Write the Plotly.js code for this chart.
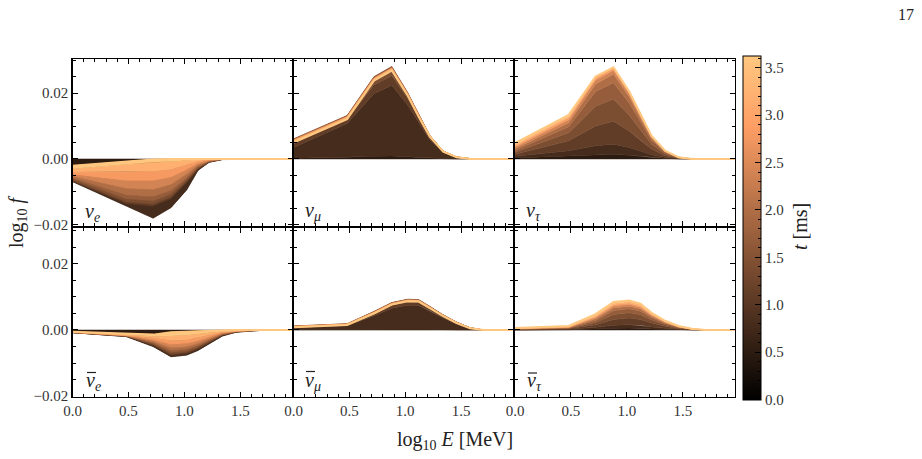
<!DOCTYPE html>
<html>
<head>
<meta charset="utf-8">
<script src="https://cdn.plot.ly/plotly-3.0.1.min.js"></script>
<style>html,body{margin:0;padding:0;background:#fff}#plot{width:922px;height:459px}</style>
</head>
<body>
<div id="plot"></div>
<script>
// energy grid, log10 E [MeV]
const logE = [0, 0.48, 0.72, 0.88, 1.02, 1.12, 1.22, 1.34, 1.46, 1.58, 1.7, 1.82, 1.97];
// snapshot times [ms]
const times = [0, 0.5, 0.8, 1.1, 1.4, 1.7, 2.0, 2.4, 2.8, 3.2, 3.63];
const tMax = 3.63;

// log10 f per snapshot (rows follow `times`)
const nuE = [
  [0,0,0,0,0,0,0,0,0,0,0,0,0],
  [-0.0069,-0.0143,-0.0180,-0.0148,-0.0094,-0.0035,-0.0010,-0.0001,0,0,0,0,0],
  [-0.0068,-0.0136,-0.0144,-0.0121,-0.0072,-0.0032,-0.0010,-0.0002,0,0,0,0,0],
  [-0.0066,-0.0131,-0.0138,-0.0116,-0.0069,-0.0030,-0.0009,-0.0001,0,0,0,0,0],
  [-0.0062,-0.0122,-0.0128,-0.0107,-0.0063,-0.0027,-0.0008,-0.0001,0,0,0,0,0],
  [-0.0058,-0.0110,-0.0115,-0.0096,-0.0057,-0.0024,-0.0007,-0.0001,0,0,0,0,0],
  [-0.0053,-0.0090,-0.0093,-0.0078,-0.0046,-0.0019,-0.0006,-0.0001,0,0,0,0,0],
  [-0.0047,-0.0066,-0.0066,-0.0056,-0.0033,-0.0014,-0.0004,0,0,0,0,0,0],
  [-0.0040,-0.0040,-0.0038,-0.0032,-0.0019,-0.0008,-0.0002,0,0,0,0,0,0],
  [-0.0030,-0.0016,-0.0010,-0.0008,-0.0005,-0.0002,-0.0001,0,0,0,0,0,0],
  [-0.0021,-0.0008,-0.0002,0,0,0,0,0,0,0,0,0,0]
];
const nuMu = [
  [0,0,0,0,0,0,0,0,0,0,0,0,0],
  [0.0002,0.0005,0.0008,0.0009,0.0007,0.0005,0.0003,0.0001,0,0,0,0,0],
  [0.0035,0.0108,0.0198,0.0224,0.0165,0.0110,0.0058,0.0020,0.0005,0,0,0,0],
  [0.0048,0.0120,0.0225,0.0253,0.0185,0.0123,0.0065,0.0022,0.0005,0,0,0,0],
  [0.0061,0.0132,0.0250,0.0281,0.0203,0.0135,0.0072,0.0024,0.0006,0.0001,0,0,0],
  [0.0059,0.0130,0.0247,0.0278,0.0201,0.0134,0.0071,0.0024,0.0006,0.0001,0,0,0],
  [0.0058,0.0129,0.0246,0.0277,0.0200,0.0133,0.0071,0.0023,0.0006,0.0001,0,0,0],
  [0.0057,0.0128,0.0245,0.0276,0.0199,0.0132,0.0070,0.0023,0.0006,0.0001,0,0,0],
  [0.0056,0.0127,0.0244,0.0275,0.0198,0.0131,0.0070,0.0023,0.0006,0.0001,0,0,0],
  [0.0053,0.0124,0.0241,0.0272,0.0196,0.0130,0.0069,0.0022,0.0005,0.0001,0,0,0],
  [0.0050,0.0121,0.0238,0.0269,0.0194,0.0128,0.0068,0.0022,0.0005,0,0,0,0]
];
const nuTau = [
  [0,0,0,0,0,0,0,0,0,0,0,0,0],
  [0.0003,0.0008,0.0012,0.0014,0.0011,0.0008,0.0004,0.0002,0,0,0,0,0],
  [0.0008,0.0025,0.0040,0.0045,0.0035,0.0024,0.0013,0.0005,0.0001,0,0,0,0],
  [0.0014,0.0055,0.0100,0.0115,0.0085,0.0057,0.0030,0.0010,0.0002,0,0,0,0],
  [0.0020,0.0080,0.0160,0.0182,0.0133,0.0088,0.0045,0.0016,0.0003,0,0,0,0],
  [0.0026,0.0098,0.0205,0.0232,0.0170,0.0112,0.0057,0.0020,0.0004,0,0,0,0],
  [0.0031,0.0110,0.0228,0.0258,0.0189,0.0124,0.0064,0.0022,0.0004,0,0,0,0],
  [0.0036,0.0119,0.0240,0.0270,0.0198,0.0130,0.0067,0.0024,0.0005,0,0,0,0],
  [0.0040,0.0125,0.0246,0.0275,0.0202,0.0133,0.0069,0.0024,0.0005,0,0,0,0],
  [0.0044,0.0130,0.0249,0.0278,0.0204,0.0134,0.0069,0.0025,0.0005,0,0,0,0],
  [0.0048,0.0134,0.0251,0.0279,0.0205,0.0135,0.0070,0.0025,0.0005,0,0,0,0]
];
const nuEBar = [
  [0,0,0,0,0,0,0,0,0,0,0,0,0],
  [-0.0008,-0.0020,-0.0050,-0.0081,-0.0076,-0.0062,-0.0042,-0.0018,-0.0007,-0.0003,-0.0001,0,0],
  [-0.0008,-0.0019,-0.0047,-0.0077,-0.0072,-0.0058,-0.0039,-0.0016,-0.0006,-0.0002,0,0,0],
  [-0.0008,-0.0019,-0.0045,-0.0073,-0.0068,-0.0055,-0.0037,-0.0015,-0.0006,-0.0002,0,0,0],
  [-0.0007,-0.0018,-0.0042,-0.0068,-0.0064,-0.0051,-0.0034,-0.0014,-0.0005,-0.0002,0,0,0],
  [-0.0007,-0.0018,-0.0039,-0.0062,-0.0058,-0.0047,-0.0031,-0.0013,-0.0005,-0.0002,0,0,0],
  [-0.0007,-0.0017,-0.0035,-0.0054,-0.0051,-0.0041,-0.0027,-0.0011,-0.0004,-0.0001,0,0,0],
  [-0.0007,-0.0017,-0.0030,-0.0044,-0.0041,-0.0033,-0.0022,-0.0009,-0.0004,-0.0001,0,0,0],
  [-0.0006,-0.0016,-0.0024,-0.0032,-0.0030,-0.0024,-0.0016,-0.0006,-0.0003,-0.0001,0,0,0],
  [-0.0006,-0.0015,-0.0019,-0.0018,-0.0016,-0.0012,-0.0008,-0.0004,-0.0002,0,0,0,0],
  [-0.0005,-0.0012,-0.0014,-0.0007,-0.0005,-0.0003,-0.0002,-0.0001,0,0,0,0,0]
];
const nuMuBar = [
  [0,0,0,0,0,0,0,0,0,0,0,0,0],
  [0.0001,0.0001,0.0002,0.0003,0.0003,0.0003,0.0002,0.0001,0,0,0,0,0],
  [0.0007,0.0013,0.0043,0.0066,0.0075,0.0074,0.0058,0.0036,0.0018,0.0004,0,0,0],
  [0.0010,0.0016,0.0050,0.0075,0.0084,0.0083,0.0065,0.0041,0.0021,0.0006,0,0,0],
  [0.0012,0.0019,0.0056,0.0083,0.0093,0.0092,0.0072,0.0046,0.0024,0.0007,0,0,0],
  [0.0011,0.0018,0.0055,0.0082,0.0092,0.0091,0.0071,0.0045,0.0023,0.0007,0,0,0],
  [0.0011,0.0018,0.0054,0.0081,0.0091,0.0090,0.0070,0.0045,0.0023,0.0007,0,0,0],
  [0.0011,0.0018,0.0053,0.0080,0.0090,0.0089,0.0069,0.0044,0.0023,0.0006,0,0,0],
  [0.0010,0.0017,0.0053,0.0080,0.0090,0.0089,0.0069,0.0044,0.0022,0.0006,0,0,0],
  [0.0009,0.0016,0.0051,0.0078,0.0088,0.0087,0.0067,0.0043,0.0022,0.0006,0,0,0],
  [0.0008,0.0015,0.0050,0.0077,0.0087,0.0086,0.0066,0.0042,0.0021,0.0005,0,0,0]
];
const nuTauBar = [
  [0,0,0,0,0,0,0,0,0,0,0,0,0],
  [0,0.0001,0.0003,0.0005,0.0006,0.0005,0.0003,0.0002,0,0,0,0,0],
  [0.0001,0.0002,0.0008,0.0014,0.0016,0.0014,0.0009,0.0005,0.0002,0,0,0,0],
  [0.0002,0.0004,0.0016,0.0032,0.0036,0.0032,0.0021,0.0011,0.0004,0.0001,0,0,0],
  [0.0002,0.0005,0.0023,0.0047,0.0052,0.0046,0.0030,0.0016,0.0006,0.0002,0,0,0],
  [0.0003,0.0006,0.0029,0.0059,0.0064,0.0057,0.0037,0.0020,0.0008,0.0002,0,0,0],
  [0.0003,0.0007,0.0034,0.0067,0.0072,0.0064,0.0042,0.0022,0.0009,0.0003,0,0,0],
  [0.0004,0.0008,0.0038,0.0073,0.0078,0.0069,0.0045,0.0024,0.0010,0.0003,0,0,0],
  [0.0004,0.0009,0.0041,0.0077,0.0082,0.0073,0.0047,0.0025,0.0010,0.0003,0,0,0],
  [0.0005,0.0010,0.0044,0.0081,0.0086,0.0077,0.0050,0.0026,0.0011,0.0003,0,0,0],
  [0.0006,0.0012,0.0048,0.0085,0.0089,0.0080,0.0052,0.0028,0.0012,0.0004,0,0,0]
];

const panelLabels = [
  '<i>ν</i><sub><i>e</i></sub>', '<i>ν</i><sub><i>μ</i></sub>', '<i>ν</i><sub><i>τ</i></sub>',
  '<i>ν</i><sub><i>e</i></sub>', '<i>ν</i><sub><i>μ</i></sub>', '<i>ν</i><sub><i>τ</i></sub>'
];
const panelData = [nuE, nuMu, nuTau, nuEBar, nuMuBar, nuTauBar];

// ---------- drawing ----------
const W = 922, H = 459;
const FONT = "'Liberation Serif', 'DejaVu Serif', serif";
const fx = p => p / W, fy = p => 1 - p / H;

function copper(t) {
  const v = Math.max(0, Math.min(1, t / tMax));
  const r = Math.min(1, 1.25 * v) * 255, g = 0.7812 * v * 255, b = 0.4975 * v * 255;
  return 'rgb(' + Math.round(r) + ',' + Math.round(g) + ',' + Math.round(b) + ')';
}
const copperScale = [[0, copper(0)], [0.8, copper(0.8 * tMax)], [1, copper(tMax)]];

const cols = [[72.5, 292.5], [293.5, 513], [515, 735]];
const rows = [
  { dom: [59, 226], range: [-0.0204, 0.0304] },
  { dom: [228, 397], range: [-0.0203, 0.0309] }
];
const labelPos = [[83, 212], [303, 211], [524, 211], [84, 381], [303, 381], [525, 381]];
const barPos = [null, null, null, [87, 96, 372.5], [306, 315, 371.5], [528, 537, 373]];

const traces = [];
const layout = {
  width: W, height: H,
  margin: { l: 0, r: 0, t: 0, b: 0, pad: 0 },
  paper_bgcolor: '#fff', plot_bgcolor: '#fff',
  showlegend: false,
  font: { family: FONT, color: '#222' },
  annotations: [], shapes: []
};

panelData.forEach((curves, k) => {
  const r = Math.floor(k / 3), c = k % 3;
  const n = k + 1;
  const xa = 'x' + (n > 1 ? n : ''), ya = 'y' + (n > 1 ? n : '');
  const xRev = logE.slice().reverse();
  for (let i = 1; i < curves.length; i++) {
    const col = copper(times[i]);
    traces.push({
      x: logE.concat(xRev),
      y: curves[i - 1].concat(curves[i].slice().reverse()),
      type: 'scatter', mode: 'lines', fill: 'toself',
      fillcolor: col, line: { color: col, width: 0.5 },
      hoverinfo: 'skip', xaxis: xa, yaxis: ya
    });
  }
  const last = curves.length - 1;
  traces.push({
    x: logE, y: curves[last], type: 'scatter', mode: 'lines',
    line: { color: copper(times[last]), width: 2 },
    hoverinfo: 'skip', xaxis: xa, yaxis: ya
  });

  const common = {
    showline: true, linecolor: 'black', linewidth: 1.3, mirror: 'allticks',
    ticks: 'inside', ticklen: 5, tickwidth: 1, tickcolor: 'black',
    showgrid: false, zeroline: false, fixedrange: true,
    tickfont: { family: FONT, size: 15, color: '#333' }
  };
  layout['xaxis' + (n > 1 ? n : '')] = Object.assign({}, common, {
    domain: [fx(cols[c][0]), fx(cols[c][1])],
    range: [0, 1.965], anchor: ya,
    tick0: 0, dtick: 0.5, tickformat: '.1f',
    minor: { ticks: 'inside', ticklen: 3, tickwidth: 1, tickcolor: 'black', dtick: 0.1, showgrid: false },
    showticklabels: r === 1
  });
  layout['yaxis' + (n > 1 ? n : '')] = Object.assign({}, common, {
    domain: [fy(rows[r].dom[1]), fy(rows[r].dom[0])],
    range: rows[r].range, anchor: xa,
    tick0: 0, dtick: 0.02, tickformat: '.2f',
    minor: { ticks: 'inside', ticklen: 3, tickwidth: 1, tickcolor: 'black', dtick: 0.005, showgrid: false },
    showticklabels: c === 0
  });
  layout.annotations.push({
    text: panelLabels[k], xref: 'paper', yref: 'paper',
    x: fx(labelPos[k][0]), y: fy(labelPos[k][1]),
    xanchor: 'left', yanchor: 'middle', showarrow: false,
    font: { family: FONT, size: 20, color: '#222' }
  });
  if (barPos[k]) {
    layout.shapes.push({
      type: 'line', xref: 'paper', yref: 'paper',
      x0: fx(barPos[k][0]), x1: fx(barPos[k][1]), y0: fy(barPos[k][2]), y1: fy(barPos[k][2]),
      line: { color: '#222', width: 1.2 }
    });
  }
});

// colour bar (major ticks + labels) and a transparent overlay for minor ticks
const cbBase = {
  x: fx(743), xanchor: 'left', y: fy(399.5), yanchor: 'bottom',
  len: 343.5 / H, lenmode: 'fraction', thickness: 18, thicknessmode: 'pixels',
  xpad: 0, ypad: 0, outlinewidth: 1, outlinecolor: 'black',
  ticks: 'inside', tickcolor: 'black', tickwidth: 1,
  tickfont: { family: FONT, size: 15, color: '#333' }
};
layout.coloraxis = {
  cmin: 0, cmax: tMax, colorscale: copperScale,
  colorbar: Object.assign({}, cbBase, { tick0: 0, dtick: 0.5, tickformat: '.1f', ticklen: 6 })
};
layout.coloraxis2 = {
  cmin: 0, cmax: tMax, colorscale: [[0, 'rgba(0,0,0,0)'], [1, 'rgba(0,0,0,0)']],
  colorbar: Object.assign({}, cbBase, { tick0: 0, dtick: 0.1, ticklen: 3, showticklabels: false, outlinewidth: 0 })
};
traces.push({
  x: times.map(() => 0.5), y: times.map(() => 0), type: 'scatter', mode: 'markers',
  marker: { color: times, coloraxis: 'coloraxis', opacity: 0, size: 1 },
  hoverinfo: 'skip', xaxis: 'x', yaxis: 'y'
});
traces.push({
  x: times.map(() => 0.5), y: times.map(() => 0), type: 'scatter', mode: 'markers',
  marker: { color: times, coloraxis: 'coloraxis2', opacity: 0, size: 1 },
  hoverinfo: 'skip', xaxis: 'x', yaxis: 'y'
});

// axis titles, colour bar label, page number
layout.annotations.push(
  { text: 'log<sub>10</sub> <i>f</i>', xref: 'paper', yref: 'paper', x: fx(17), y: fy(222),
    textangle: -90, showarrow: false, xanchor: 'center', yanchor: 'middle',
    font: { family: FONT, size: 20, color: '#222' } },
  { text: 'log<sub>10</sub> <i>E</i> [MeV]', xref: 'paper', yref: 'paper', x: fx(455), y: fy(440),
    showarrow: false, xanchor: 'center', yanchor: 'middle',
    font: { family: FONT, size: 20, color: '#222' } },
  { text: '<i>t</i> [ms]', xref: 'paper', yref: 'paper', x: fx(800), y: fy(227),
    textangle: -90, showarrow: false, xanchor: 'center', yanchor: 'middle',
    font: { family: FONT, size: 20, color: '#222' } },
  { text: '17', xref: 'paper', yref: 'paper', x: fx(906), y: fy(15),
    showarrow: false, xanchor: 'center', yanchor: 'middle',
    font: { family: FONT, size: 16, color: '#222' } }
);

Plotly.newPlot('plot', traces, layout, { staticPlot: true, displayModeBar: false });
</script>
</body>
</html>
